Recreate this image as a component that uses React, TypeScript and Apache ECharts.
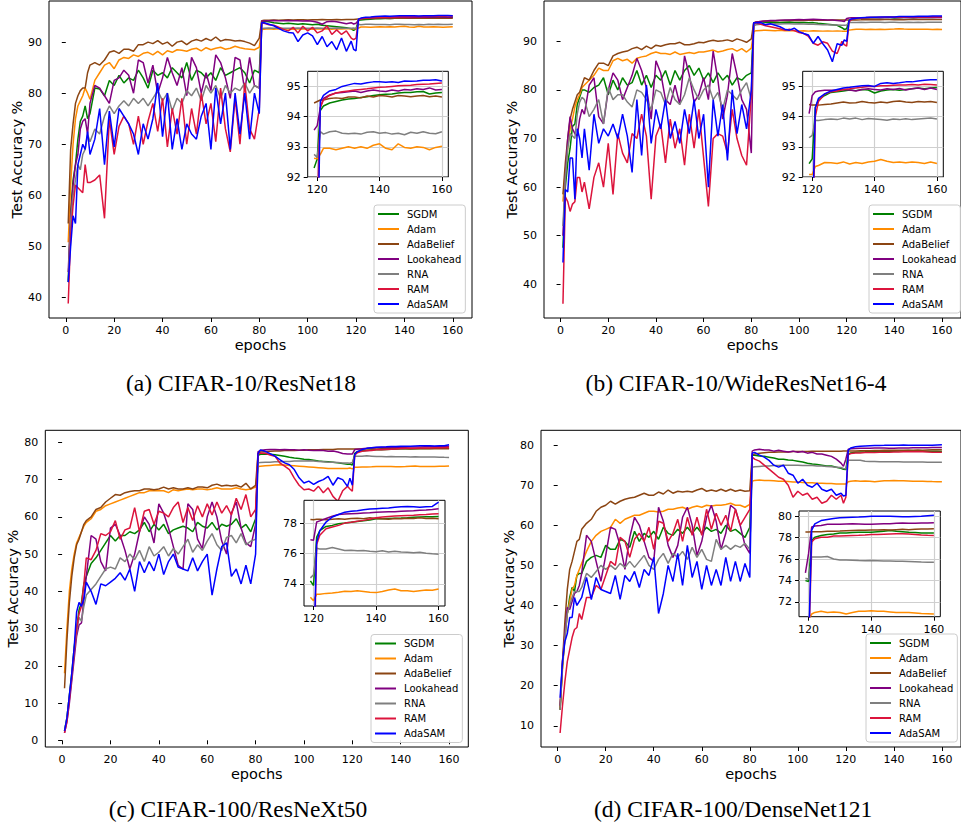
import React, { useEffect, useRef } from "react";
import * as echarts from "echarts";

const EPOCHS = [1,2,3,4,5,6,7,8,9,10,12,14,16,18,20,22,24,26,28,30,32,34,36,38,40,42,44,46,48,50,52,54,56,58,60,62,64,66,68,70,72,74,76,78,80,81,82,84,86,88,90,92,94,96,98,100,102,104,106,108,110,112,114,116,118,119,120,121,122,124,126,128,130,132,134,136,138,140,142,144,146,148,150,152,154,156,158,160];
const INSET_FROM = 119;

const METHODS = ["SGDM", "Adam", "AdaBelief", "Lookahead", "RNA", "RAM", "AdaSAM"];
const COLORS = ["#008000", "#ff8c00", "#8b4513", "#800080", "#7f7f7f", "#dc143c", "#0000ff"];

const X_TICKS = [0, 20, 40, 60, 80, 100, 120, 140, 160];
const INSET_X_TICKS = [120, 140, 160];
const Y_TICKS_A = [40, 50, 60, 70, 80, 90];
const Y_TICKS_B = [40, 50, 60, 70, 80, 90];
const Y_TICKS_C = [0, 10, 20, 30, 40, 50, 60, 70, 80];
const Y_TICKS_D = [10, 20, 30, 40, 50, 60, 70, 80];
const INSET_Y_TICKS_A = [92, 93, 94, 95];
const INSET_Y_TICKS_B = [92, 93, 94, 95];
const INSET_Y_TICKS_C = [74, 76, 78];
const INSET_Y_TICKS_D = [72, 74, 76, 78, 80];

const CAPTIONS = ["(a) CIFAR-10/ResNet18", "(b) CIFAR-10/WideResNet16-4", "(c) CIFAR-100/ResNeXt50", "(d) CIFAR-100/DenseNet121"];

// ---------- (a) CIFAR-10 / ResNet18 ----------
const SGDM_A = [43,57,63,66,71,74.5,75.5,77.5,75,76,
81,80.8,79.5,82.5,81.5,83.5,82,83,82.5,84.5,83,81,84.5,83.5,84,83,85,84,83,86,82.5,84.5,84,83,84,82.5,85,83.5,84,84.5,85,84,82,84.5,84,
94.0,
94.1,94.0,93.8,93.7,93.6,93.7,93.6,93.5,93.6,93.5,93.4,93.5,93.3,93.2,93.1,93.0,92.9,92.8,92.6,
92.3,92.6,
94.2,
94.35,94.45,94.5,94.55,94.58,94.6,94.63,94.66,94.7,94.72,94.74,94.75,94.78,94.8,94.8,94.82,94.83,94.75,94.78,94.8];
const ADAM_A = [50.8,62,70,75,77.5,78.5,79.5,81,80,78.8,
82.5,84,85.5,86,84.8,86.5,87,86.8,87.5,87.2,87.8,88,87.5,88.2,87.5,88.3,88,88.5,88.4,88.2,88.6,88.8,88.3,88.9,88.5,88.8,89,88.6,88.8,89.2,88.9,88.7,88.6,88.5,89,
92.5,
92.5,92.6,92.5,92.6,92.55,92.6,92.5,92.6,92.55,92.6,92.5,92.6,92.55,92.6,92.5,92.6,92.55,92.6,92.6,
92.62,92.6,
92.75,
92.95,92.95,92.9,92.95,93.0,92.95,93.0,92.95,93.05,93.1,92.95,92.9,93.1,92.98,92.95,93.0,92.98,92.9,92.98,93.02];
const ADABELIEF_A = [54.5,69,74,78,79.5,80.5,81,81,84,85.5,
86,85.5,86.5,88,88.3,87.8,88.6,88.6,88.2,89.5,89.5,90,89.7,90.3,89.6,90,89.2,90,90.2,89.5,90.2,90.5,90.2,90.7,90.3,91,90.2,90.5,90.4,90.2,90.3,90.1,89.8,89.3,90.8,
94.2,
94.3,94.3,94.35,94.3,94.35,94.4,94.35,94.4,94.4,94.35,94.4,94.4,94.45,94.4,94.4,94.45,94.4,94.45,94.45,
94.45,94.5,
94.55,
94.55,94.6,94.62,94.6,94.65,94.65,94.62,94.68,94.65,94.7,94.68,94.65,94.7,94.68,94.66,94.68,94.7,94.66,94.68,94.65];
const LOOKAHEAD_A = [45,56,62,66,68,73,74.5,75,72,78,
81.5,81,79.5,78,82.5,83,84.5,83.5,80,86.5,86,82,85.5,80,83,87,84,81.5,85,79.5,87,85,80,84,80.5,87.5,86,83,79,87,86.5,80.5,87,81.5,81,
94.1,
94.2,94.2,94.25,94.2,94.2,94.25,94.2,94.2,94.15,94.2,94.1,93.9,93.5,94.0,94.1,94.0,93.8,93.6,93.8,
93.55,93.7,
94.3,
94.6,94.72,94.78,94.8,94.82,94.85,94.8,94.85,94.88,94.85,94.83,94.88,94.85,94.9,94.88,94.92,94.9,94.95,94.88,94.9];
const RNA_A = [43,55,60,63,66,65,68,69,72,70.5,
73,72,75.5,77.5,76,77.5,78.5,77.5,79,78,79,77.5,79,80.5,78.5,80,76.5,79,78,80.5,79.5,81,78.5,81.5,80,81.5,79,81.5,80,81,80.5,82,80,81.5,81,
92.6,
92.7,92.75,92.7,92.75,92.7,92.72,92.7,92.75,92.7,92.72,92.7,92.75,92.7,92.72,92.7,92.75,92.7,92.72,92.7,
92.75,92.65,
93.5,
93.42,93.5,93.52,93.45,93.43,93.45,93.42,93.48,93.5,93.45,93.47,93.42,93.45,93.4,93.48,93.45,93.5,93.45,93.43,93.5];
const RAM_A = [38.8,52,58,62,61.5,61,60.5,66,62.5,62.5,
63,64,55.5,75,68,73.5,75.5,74,70,75.5,70,74.5,78,72.5,79,69.5,77,72,79,70,77,72,80,74,78,70.5,81,73,68.5,79,70,82,73,71,77,
93.8,
93.7,93.4,93.3,92.9,92.5,92.2,92.9,91.8,93.1,92.2,92.9,91.8,92.2,93.2,91.5,92.4,91.5,92.2,90.8,
90.5,90.8,
94.3,
94.55,94.7,94.78,94.82,94.85,94.88,94.9,94.92,94.95,94.97,94.98,95.0,95.02,95.03,95.04,95.06,95.07,95.08,95.1,95.11];
const ADASAM_A = [43,50,56,54.5,66,68,70,69,72.5,68,
71,77,66,76.5,69.5,77,75.5,74,72,68,74,71,75,82,71.5,80,69,75,69,74,72,71,75.5,78,69,81,74,80,69,80,72,80,71,80,76,
93.8,
93.8,93.5,93.2,92.7,92.2,91.9,91.8,90.1,91.4,91.8,91.2,89.5,91.1,89.1,90.1,88.5,90.8,88.2,90.2,
88.6,88.3,
94.5,
94.7,94.85,94.9,95.0,95.05,95.1,95.08,95.12,95.15,95.15,95.14,95.15,95.13,95.18,95.17,95.18,95.2,95.2,95.22,95.18];

// ---------- (b) CIFAR-10 / WideResNet16-4 ----------
const SGDM_B = [47.5,60,65,68,72.5,73,77,78.5,80,80,
79.5,80.5,81,82.5,79,82,80,82.5,81,81.5,84,81,83,80.5,83,82,84,81,84,82,84,85,83,84.5,82,83.5,81.5,83.5,82,83,81,82.5,82,83,83.5,
93.6,
93.9,94.0,93.95,94.0,93.95,93.9,93.95,94.0,93.9,93.85,93.9,93.8,93.85,93.7,93.6,93.5,93.4,93.3,92.8,
92.44,92.6,
94.3,
94.55,94.7,94.8,94.82,94.85,94.88,94.86,94.9,94.88,94.78,94.85,94.88,94.9,94.87,94.9,94.92,94.95,94.92,94.95,94.96];
const ADAM_B = [57,63.5,68,72,74,76.5,78,79,80.5,81,
82,83,84.5,84,84,86,86.5,86,86.3,85.5,86.5,86.8,87,87.5,87.8,87.5,87.5,87.3,87.8,87.3,87.5,87.7,87.5,87.8,87.8,88,88.2,87.8,88,88.3,88.5,88,88.5,87.8,88.6,
92.0,
92.2,92.25,92.3,92.25,92.2,92.3,92.2,92.25,92.2,92.15,92.2,92.1,92.2,92.15,92.1,92.15,92.1,92.15,92.1,
92.08,92.08,
92.35,
92.38,92.48,92.47,92.45,92.5,92.43,92.48,92.45,92.5,92.52,92.58,92.52,92.48,92.5,92.47,92.5,92.48,92.45,92.5,92.45];
const ADABELIEF_B = [58.5,65,70,74,76,77.5,79,79.5,81,82.5,
82,84,85.5,85.5,85,87,87.5,87.8,88,88.5,88.8,88.3,89,88.5,89.2,89,89.3,89.5,89.5,89.8,89.3,89.3,89.5,89.8,89.7,90,90.2,90,90.1,90.3,90,90.5,90.2,89.8,90.5,
93.8,
94.0,94.1,94.2,94.2,94.25,94.3,94.3,94.35,94.3,94.35,94.3,94.35,94.4,94.35,94.4,94.35,94.4,94.38,94.4,
94.4,94.38,
94.38,
94.38,94.4,94.42,94.45,94.48,94.45,94.46,94.5,94.47,94.45,94.48,94.46,94.5,94.52,94.48,94.47,94.5,94.48,94.5,94.47];
const LOOKAHEAD_B = [50,62,70,74.5,72,71,70.5,74,76,75,
81,82.5,74.5,73,80,83.5,82,78,80.5,83,86.5,84,80.5,74,86,83.5,78,77,81,77,87,83,77.5,79,82.5,78,88,82,74,79,87.5,83,78,76,67,
93.8,
94.0,94.1,94.2,94.3,94.3,94.35,94.4,94.4,94.45,94.5,94.45,94.5,94.55,94.5,94.45,94.4,94.4,94.3,94.2,
94.1,94.7,
94.82,
94.85,94.87,94.87,94.88,94.9,94.88,94.85,94.9,94.92,94.9,94.88,94.92,94.9,94.93,94.88,94.92,94.95,94.9,94.95,94.9];
const RNA_B = [52,62,68,71,70.5,70,75,77.5,78.5,78,
74.5,76,78,73,80.5,78,79,79,77.5,76.5,80,79.5,78,76,80,79.5,77,80.5,78,77,79,82.5,80,78,80,81,78,79.5,76,80,79,78,80,81.5,78,
93.2,
93.4,93.5,93.5,93.55,93.6,93.55,93.6,93.6,93.55,93.6,93.55,93.5,93.5,93.45,93.4,93.4,93.35,93.35,93.3,
93.3,93.38,
93.88,
93.87,93.9,93.92,93.9,93.95,93.92,93.95,93.9,93.94,93.92,93.9,93.88,93.92,93.9,93.93,93.9,93.92,93.94,93.95,93.92];
const RAM_B = [36,58,57,55,56.5,57,62,62,59,61,
55.5,62,65,60,69,58.5,71,67,65,71,70,75,70.5,57.5,70.5,73,65,74,68,72,64.5,75,68,76,66,56,70,71,70.5,67,76,70,66.5,64.5,79,
93.7,
93.8,93.5,93.2,93.0,92.8,92.6,92.3,92.5,92.2,91.8,91.6,91.0,89.6,89.2,89.9,89.6,88.0,87.5,90.0,
89.3,89.0,
94.0,
94.5,94.75,94.82,94.85,94.9,94.92,94.95,94.97,95.0,95.0,95.02,95.02,95.04,95.05,95.05,95.06,95.05,95.07,95.06,95.05];
const ADASAM_B = [44.5,59.5,59,66,66,57.5,72,70,66,72,
63.5,75,69,72,70.5,73,70,75,70.5,63,78,66.5,81,69,76,72,78,70,73.5,69,76,71,78,70,75,60,78,70.5,77,65.5,80,71,77,72,80,
93.8,
93.8,93.85,93.4,93.6,93.3,93.0,92.5,92.3,92.7,92.0,91.6,91.3,89.6,91.0,89.5,88.2,85.8,89.5,89.2,
90.3,90.0,
94.3,
94.6,94.75,94.85,94.9,94.95,94.97,95.0,95.02,95.03,95.0,95.1,95.12,95.1,95.12,95.15,95.15,95.18,95.2,95.22,95.22];

// ---------- (c) CIFAR-100 / ResNeXt50 ----------
const SGDM_C = [2.5,6,12,18,25,30,35,37,42,44,
47.5,49,51,53,55,53.5,55,55,56,55.5,56.5,58.5,56,58,56.5,58,55.5,56.5,57,57.5,57,56,58.5,57.5,57,58.5,56.5,58,57.5,58,59.5,57,58,56,59.5,
76.5,
76.8,76.9,76.8,76.7,76.5,76.3,76.0,75.8,75.7,75.5,75.4,75.2,75.0,74.9,74.8,74.7,74.5,74.3,74.1,
74.2,73.9,
77.08,
77.5,77.78,77.85,77.96,78.0,78.05,78.1,78.15,78.2,78.29,78.28,78.3,78.32,78.33,78.35,78.38,78.4,78.42,78.42,78.44];
const ADAM_C = [18,30,40,46,50,53,54.5,56,57.5,58.5,
59.5,61.5,62,63,63.5,64,64.5,65,65.5,66,66.5,66.5,67,67,67,67,66.5,67.3,67,67.3,67.5,67.3,67.5,67.5,67.3,67.5,67.8,67.5,67.5,67.5,67.8,67.5,67.3,67.5,68,
73.5,
73.6,73.7,73.8,73.9,74.0,73.9,73.8,73.7,73.6,73.5,73.4,73.3,73.2,73.1,73.0,73.0,73.0,73.0,73.0,
73.12,72.9,
73.33,
73.33,73.38,73.4,73.45,73.52,73.5,73.55,73.5,73.45,73.43,73.5,73.6,73.67,73.55,73.55,73.5,73.56,73.6,73.58,73.67];
const ADABELIEF_C = [14,27,37,44,49,52.5,54,56,58,59,
60,62,62.5,64,65,66,65.8,66.5,66.8,67,67,67.5,67.5,67.3,67.5,68,67.5,67.8,67.5,67.5,67.8,67.5,68,68,67.8,68.5,68.8,68.3,68.5,68.3,68.5,68,69,67.5,68.5,
77.0,
77.4,77.5,77.6,77.7,77.7,77.8,77.8,77.8,77.9,77.9,78.0,78.0,78.0,78.1,78.1,78.1,78.2,78.2,78.2,
78.24,78.22,
78.25,
78.25,78.22,78.25,78.28,78.25,78.3,78.32,78.28,78.35,78.3,78.28,78.25,78.3,78.28,78.32,78.3,78.35,78.3,78.32,78.28];
const LOOKAHEAD_C = [2,5,10,16,22,28,31,31.5,38,44,
55,54,48,45.5,57,58,55,51,46,50,56,60,58,53,63.5,61,57,52,47,46,63.5,62,54,51.5,60,64,60,53.5,50,61,64,57,53,52,58,
77.5,
77.8,78.0,78.1,78.1,78.0,78.1,78.0,78.0,77.9,78.0,77.9,77.8,77.9,77.8,77.6,77.7,77.4,77.0,76.9,
76.9,76.88,
78.07,
78.15,78.3,78.45,78.57,78.6,78.62,78.64,78.66,78.68,78.72,78.73,78.74,78.75,78.78,78.8,78.82,78.85,78.86,78.9,78.95];
const RNA_C = [2.5,6,12,17,24,29,33,32,36,39,
40.5,42,44,46,46.5,46,49,48,50,48.5,51,48,52,49.5,50.5,52,49.5,51.5,50,52,54,50.5,52.5,51,53.5,55.5,52.5,51,54.5,55,53,55.5,52.5,53.5,54,
74.5,
74.6,74.7,74.7,74.8,74.8,74.9,74.9,75.0,75.0,75.0,75.1,75.0,74.9,74.8,74.7,74.7,74.6,74.5,74.5,
74.4,74.6,
76.35,
76.3,76.3,76.4,76.3,76.2,76.22,76.18,76.2,76.15,76.12,76.18,76.1,76.15,76.1,76.08,76.05,76.08,76.02,75.98,75.95];
const RAM_C = [2,5,11,17,24,30,34,36,42,49,
48.5,51,55.5,55,56,59,54,56.5,57,62.5,56,61.5,62,58,61.5,61,60,62.5,64,58.5,62.5,59,63,60,63.5,60.5,64,61,63,60.5,65,62,66,60,62,
77.0,
77.1,77.1,76.6,76.3,74.5,73.6,72.7,70.4,68.5,67.3,67.5,66.9,68.2,66.5,67.8,65.5,64.2,67.0,68.2,
67.5,66.9,
76.6,
77.2,77.63,77.74,77.85,78.0,78.05,78.12,78.18,78.25,78.35,78.4,78.43,78.46,78.48,78.5,78.52,78.55,78.57,78.6,78.62];
const ADASAM_C = [2.5,6,12,18,25,34.5,37,36,38,42.5,
40,36.5,42,41.5,42.5,43.5,45,43,46,40,48,45,48,45.5,50,44.5,48,50,46.5,46,45.5,49,45.5,48,50,39,46,52,53,44,46,42,47,42,50,
77.0,
78.0,77.6,77.0,76.3,75.4,74.5,74.0,72.7,70.5,69.1,69.6,68.7,69.5,70.0,70.9,68.5,70.5,70.0,68.2,
70.4,68.5,
76.75,
77.5,78.07,78.4,78.57,78.72,78.78,78.82,78.88,78.92,78.95,78.98,79.0,79.05,79.08,79.1,79.08,79.05,79.08,79.1,79.38];

// ---------- (d) CIFAR-100 / DenseNet121 ----------
const SGDM_D = [14,25,32,38,42,44.5,43.5,47.5,48,48,
51,52,52.5,52,55,54,54,56.5,56,54.5,58.5,56,58,57,58.5,56.5,59.5,58,57.5,59,58,59.5,58,59.5,58,59.5,58.5,59,58,60,58.5,59,58,57,59.5,
77.5,
77.5,77.3,77.2,77.0,76.8,76.5,76.5,76.3,76.2,76.0,75.8,75.5,75.3,75.2,75.0,74.8,74.8,74.5,74.2,
73.98,73.9,
77.74,
78.05,78.2,78.3,78.35,78.43,78.45,78.48,78.5,78.5,78.5,78.55,78.6,78.68,78.6,78.55,78.5,78.48,78.45,78.45,78.43];
const ADAM_D = [14.5,24,32,38,41,44,45,47.5,49,50.5,
53.5,56,57.5,58.5,59,59.5,61.5,60.5,61.5,62,62.5,62.5,63,63.5,63.5,63.3,63.5,64,64,64.3,64.5,64,64.5,64.8,64.5,65,64.8,65,65,65.2,65.5,65,65,64.5,65.2,
71.0,
71.2,71.3,71.2,71.2,71.1,71.0,71.0,70.9,70.8,70.8,70.7,70.6,70.6,70.5,70.5,70.4,70.4,70.3,70.3,
70.3,70.3,
70.85,
71.0,71.1,71.0,71.05,71.0,70.85,71.0,71.1,71.12,71.16,71.1,71.1,71.05,71.0,71.0,71.0,70.95,70.9,70.88,70.85];
const ADABELIEF_D = [14,26,36,44,49,51,53.5,56,56.5,59,
60.5,61.5,63.5,64.5,65,66,65.3,66,66.5,66.8,67,67.5,68,67.5,67.5,68.3,67.8,68.8,68,68.5,68.3,68.5,68.3,68.8,69.2,68.5,68.8,68.5,69,68.5,69,68.5,68.8,68.5,68.6,
77.5,
77.8,78.0,78.1,78.2,78.2,78.3,78.3,78.3,78.4,78.4,78.4,78.4,78.5,78.5,78.5,78.5,78.5,78.5,78.5,
78.53,78.53,
78.55,
78.55,78.55,78.6,78.6,78.62,78.65,78.68,78.7,78.7,78.72,78.72,78.75,78.72,78.75,78.78,78.75,78.8,78.82,78.82,78.84];
const LOOKAHEAD_D = [15,26,33,39.5,39,41,43,43.5,45,48,
57.5,56,51,46,52.5,59.5,59,55,49,57,62,60,56,52,51,64.5,61,55,52,55,62,64.5,60,52.5,56,62,65,61,54,58,65,64,60,55,53,
78.5,
78.8,79.0,78.8,78.8,78.5,78.7,78.5,78.3,78.5,78.2,78.4,78.0,78.2,77.8,77.8,77.5,77.2,76.5,75.5,
74.7,76.5,
79.0,
79.1,79.15,79.25,79.25,79.25,79.28,79.3,79.28,79.25,79.25,79.28,79.3,79.3,79.35,79.37,79.35,79.35,79.38,79.38,79.4];
const RNA_D = [14,25,32,38,40,42,43.5,43.5,43.5,44.5,
48,47,48.5,50,49,50,49,50.5,49.5,51,49.5,51,52.5,50,49,51.5,53,50.5,53,52,53.5,51.5,54.5,52,54,51.5,51,56.5,54,55,54,55,54.5,55.5,54,
74.5,
74.6,74.7,74.8,74.8,74.9,74.9,75.0,75.0,75.0,75.0,74.9,74.9,74.9,74.8,74.8,74.7,74.6,74.5,74.4,
74.2,74.1,
76.2,
76.2,76.2,76.24,76.0,75.92,75.9,75.88,75.86,75.85,75.86,75.84,75.82,75.82,75.8,75.8,75.78,75.75,75.72,75.7,75.7];
const RAM_D = [8.2,15,21,26,29,32,34,34.5,38,36.5,
42,42,45,44,47.5,51,50,57,56,52,56.5,58,56,59.5,54,61,60.5,56,58,61.5,56,62,57.5,62,57.5,64,59,63,60,62.5,58.5,64,60,62,64,
77.0,
76.5,76.0,75.0,74.0,73.0,72.0,71.5,70.0,67.0,68.5,67.5,68.0,66.5,67.0,65.5,66.0,67.5,66.5,67.5,
65.5,67.0,
77.6,
77.9,78.05,78.05,78.15,78.15,78.18,78.2,78.22,78.25,78.3,78.3,78.33,78.35,78.37,78.37,78.35,78.3,78.25,78.22,78.2];
const ADASAM_D = [17,26,31,33,37,37,42,40,41,42,
47,41.5,47,44,43.5,43,47.5,41.5,47.5,46,48.5,44.5,49,47.5,52,38,43,50,46,53,45,55,47,51,44,50,45,49,45,52,46,51,46,50.5,47,
78.0,
78.2,77.5,77.0,76.2,75.0,74.5,75.0,73.0,72.5,70.5,71.5,70.0,69.5,70.5,69.0,68.5,69.0,67.5,68.0,
67.3,67.5,
78.7,
79.3,79.6,79.7,79.8,79.87,79.9,79.92,79.94,79.97,80.0,80.0,80.02,80.0,79.98,79.96,79.95,79.98,80.0,80.05,80.1];

const PANELS = [
  { series: [SGDM_A, ADAM_A, ADABELIEF_A, LOOKAHEAD_A, RNA_A, RAM_A, ADASAM_A], yRange: [35.98, 98.05], yTicks: Y_TICKS_A, insetRange: [92, 95.5], insetTicks: INSET_Y_TICKS_A },
  { series: [SGDM_B, ADAM_B, ADABELIEF_B, LOOKAHEAD_B, RNA_B, RAM_B, ADASAM_B], yRange: [33.06, 98.3], yTicks: Y_TICKS_B, insetRange: [92, 95.5], insetTicks: INSET_Y_TICKS_B },
  { series: [SGDM_C, ADAM_C, ADABELIEF_C, LOOKAHEAD_C, RNA_C, RAM_C, ADASAM_C], yRange: [-1.8, 83.25], yTicks: Y_TICKS_C, insetRange: [72.55, 79.5], insetTicks: INSET_Y_TICKS_C },
  { series: [SGDM_D, ADAM_D, ADABELIEF_D, LOOKAHEAD_D, RNA_D, RAM_D, ADASAM_D], yRange: [4.7, 83.7], yTicks: Y_TICKS_D, insetRange: [70.6, 80.5], insetTicks: INSET_Y_TICKS_D },
];

const X_RANGE = [-6.95, 167.95];
const INSET_X_RANGE = [116.95, 162.05];

const LAYOUT = [
  { main: { left: 49, top: 1, width: 423, height: 317 }, inset: { left: 307.7, top: 71.3, width: 140.6, height: 105.7 }, legend: { left: 374, top: 205 }, caption: { x: 241, y: 383 } },
  { main: { left: 544, top: 1, width: 423, height: 317 }, inset: { left: 802.7, top: 71.3, width: 140.6, height: 105.7 }, legend: { left: 869, top: 205 }, caption: { x: 736, y: 383 } },
  { main: { left: 45.3, top: 430.3, width: 423, height: 316.7 }, inset: { left: 304, top: 500.3, width: 141, height: 105.7 }, legend: { left: 371, top: 634.5 }, caption: { x: 238, y: 809 } },
  { main: { left: 541, top: 430.3, width: 423, height: 316.7 }, inset: { left: 799, top: 511, width: 141.3, height: 105.7 }, legend: { left: 866, top: 634 }, caption: { x: 733, y: 809 } },
];

const FONT = "DejaVu Sans";
const INK = "#000";

function buildOption() {
  const grid: any[] = [];
  const xAxis: any[] = [];
  const yAxis: any[] = [];
  const series: any[] = [];

  const axisCommon = (ticks: number[], fontSize: number, z: number) => ({
    axisLine: { show: false },
    axisTick: { show: true, inside: false, length: 4, customValues: ticks, lineStyle: { color: INK, width: 1 } },
    axisLabel: { customValues: ticks, fontSize, color: INK, fontFamily: FONT, margin: 7 },
    z,
  });

  LAYOUT.forEach((l) => {
    grid.push({ ...l.main, show: true, backgroundColor: "transparent", borderColor: INK, borderWidth: 1, containLabel: false, z: 0 });
  });
  LAYOUT.forEach((l) => {
    grid.push({ ...l.inset, show: true, backgroundColor: "#ffffff", borderColor: INK, borderWidth: 1, containLabel: false, z: 10 });
  });

  PANELS.forEach((p, i) => {
    xAxis.push({
      type: "value", gridIndex: i, min: X_RANGE[0], max: X_RANGE[1],
      ...axisCommon(X_TICKS, 11, 1),
      splitLine: { show: false },
      name: "epochs", nameLocation: "middle", nameGap: 19,
      nameTextStyle: { fontSize: 14.5, color: INK, fontFamily: FONT },
    });
    yAxis.push({
      type: "value", gridIndex: i, min: p.yRange[0], max: p.yRange[1],
      ...axisCommon(p.yTicks, 11, 1),
      splitLine: { show: false },
      name: "Test Accuracy %", nameLocation: "middle", nameGap: 23,
      nameTextStyle: { fontSize: 14.5, color: INK, fontFamily: FONT },
    });
  });
  PANELS.forEach((p, i) => {
    xAxis.push({
      type: "value", gridIndex: 4 + i, min: INSET_X_RANGE[0], max: INSET_X_RANGE[1],
      ...axisCommon(INSET_X_TICKS, 11, 11),
      splitLine: { show: true, lineStyle: { color: "#cfcfcf", width: 1.2 } },
    });
    yAxis.push({
      type: "value", gridIndex: 4 + i, min: p.insetRange[0], max: p.insetRange[1],
      ...axisCommon(p.insetTicks, 11, 11),
      splitLine: { show: true, lineStyle: { color: "#cfcfcf", width: 1.2 } },
    });
  });

  PANELS.forEach((p, i) => {
    p.series.forEach((vals, m) => {
      const pts = EPOCHS.map((e, k) => [e, vals[k]]);
      series.push({
        type: "line", name: METHODS[m], xAxisIndex: i, yAxisIndex: i, data: pts,
        showSymbol: false, symbol: "none", silent: true, clip: true, z: 2,
        lineStyle: { width: 1.5, color: COLORS[m] }, itemStyle: { color: COLORS[m] },
      });
    });
  });
  PANELS.forEach((p, i) => {
    p.series.forEach((vals, m) => {
      const pts = EPOCHS.map((e, k) => [e, vals[k]]).filter((d) => d[0] >= INSET_FROM);
      series.push({
        type: "line", name: METHODS[m], xAxisIndex: 4 + i, yAxisIndex: 4 + i, data: pts,
        showSymbol: false, symbol: "none", silent: true, clip: true, z: 12,
        lineStyle: { width: 1.5, color: COLORS[m] }, itemStyle: { color: COLORS[m] },
      });
    });
  });

  const legend = LAYOUT.map((l) => ({
    data: METHODS, orient: "vertical", left: l.legend.left, top: l.legend.top,
    icon: "rect", itemWidth: 21, itemHeight: 2, itemGap: 3,
    textStyle: { fontSize: 10, fontFamily: FONT, color: INK, lineHeight: 12, padding: [0, 0, 0, 3] },
    padding: [3, 4, 3, 4],
    backgroundColor: "rgba(255,255,255,0.85)", borderColor: "#cccccc", borderWidth: 1, borderRadius: 3,
    selectedMode: false, z: 20,
  }));

  const graphic = LAYOUT.map((l, i) => ({
    type: "text", x: l.caption.x, y: l.caption.y, z: 30,
    style: { text: CAPTIONS[i], fontSize: 23.5, fontFamily: "Liberation Serif", fill: INK, align: "center", verticalAlign: "middle" },
  }));

  return {
    animation: false,
    backgroundColor: "#ffffff",
    textStyle: { fontFamily: FONT },
    grid, xAxis, yAxis, series, legend, graphic,
  };
}

export default function App() {
  const ref = useRef<HTMLDivElement>(null);
  useEffect(() => {
    if (!ref.current) return;
    const chart = echarts.init(ref.current, undefined, { renderer: "svg" });
    chart.setOption(buildOption() as any);
    return () => chart.dispose();
  }, []);
  return <div ref={ref} style={{ position: "absolute", left: 0, top: 0, width: 961, height: 826 }} />;
}
